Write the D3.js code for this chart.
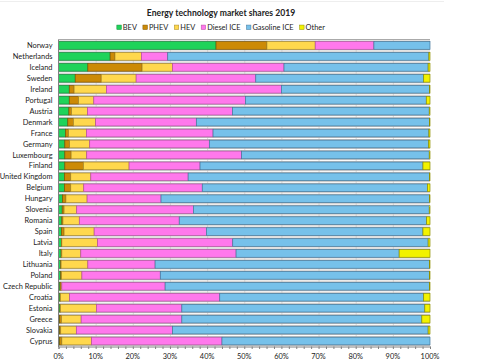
<!DOCTYPE html>
<html><head><meta charset="utf-8">
<script src="https://cdn.jsdelivr.net/npm/d3@7"></script>
<style>body{margin:0;background:#fff}svg{display:block}text{font-family:Lato,"Liberation Sans",sans-serif;fill:#222}</style>
</head><body><svg id="c" width="478" height="364"></svg>
<script>
const countries=["Norway","Netherlands","Iceland","Sweden","Ireland","Portugal","Austria","Denmark","France","Germany","Luxembourg","Finland","United Kingdom","Belgium","Hungary","Slovenia","Romania","Spain","Latvia","Italy","Lithuania","Poland","Czech Republic","Croatia","Estonia","Greece","Slovakia","Cyprus"];
const seriesNames=["BEV","PHEV","HEV","Diesel ICE","Gasoline ICE","Other"];
const bev=[42.4,13.9,7.9,4.5,2.9,2.9,2.8,2.5,1.9,1.7,1.7,1.7,1.6,1.6,1.1,1.0,0.9,0.8,0.8,0.7,0.6,0.6,0.4,0.4,0.4,0.3,0.3,0.3];
const phev=[13.7,1.3,14.6,7.0,1.3,2.5,0.7,1.5,0.8,1.3,1.7,5.0,1.7,1.7,0.9,0.5,0.3,0.7,0.1,0.2,0.1,0.2,0.3,0.1,0.1,0.5,0.3,0.6];
const hev=[13.0,7.1,8.2,9.4,8.7,4.1,4.3,6.0,4.8,5.4,4.2,12.3,5.4,3.5,5.7,3.4,4.4,8.1,9.6,5.1,7.2,5.5,0.2,2.5,9.7,5.3,4.2,8.0];
const diesel=[15.8,7.1,30.0,32.2,47.1,40.8,39.0,27.1,34.1,32.2,41.7,19.1,26.2,31.9,19.9,31.4,26.9,30.2,36.4,41.8,18.1,21.1,27.8,40.4,23.0,27.1,25.9,35.1];
const gasoline=[15.1,70.3,38.8,45.2,39.9,48.7,53.0,62.8,58.1,59.0,50.5,60.0,65.0,60.6,72.3,63.5,66.6,58.3,52.6,43.9,73.9,72.5,71.2,54.9,65.4,64.6,68.8,56.0];
const other=[0.0,0.3,0.5,1.7,0.1,1.0,0.2,0.1,0.3,0.4,0.2,1.9,0.1,0.7,0.1,0.2,0.9,1.9,0.5,8.3,0.1,0.1,0.1,1.7,1.4,2.2,0.5,0.0];
const xTicks=[0,10,20,30,40,50,60,70,80,90,100];
const title="Energy technology market shares 2019";

const colors=["#1fd35a","#cc8a06","#ffd84d","#ff78ec","#76c1ea","#f2f200"];
const strokes=["#15893b","#7d5404","#a8892a","#b1529f","#44779a","#8f8f00"];

const svg=d3.select("#c");
const rows=countries.map((c,i)=>({country:c,vals:[bev[i],phev[i],hev[i],diesel[i],gasoline[i],other[i]]}));
const x=d3.scaleLinear().domain([0,100]).range([58.5,430]);
const y=d3.scaleBand().domain(countries).range([40,346.5]).paddingInner(0.3).paddingOuter(0.15);
const step=y.step();

// frame lines
svg.append("line").attr("x1",0).attr("x2",444).attr("y1",1.5).attr("y2",1.5).attr("stroke","#eeeeee");
svg.append("line").attr("x1",58).attr("x2",430).attr("y1",39.5).attr("y2",39.5).attr("stroke","#aaaaaa");

// row bands
const g=svg.append("g");
g.selectAll("rect.band").data(rows).join("rect").attr("class","band")
 .attr("x",x(0)).attr("width",x(100)-x(0))
 .attr("y",d=>y(d.country)-step*0.15+0.5).attr("height",step-1)
 .attr("fill","#c2c2c2");
// grid
g.selectAll("line.grid").data(xTicks.slice(1,-1)).join("line").attr("class","grid")
 .attr("x1",d=>x(d)+0.5).attr("x2",d=>x(d)+0.5).attr("y1",40).attr("y2",346.5)
 .attr("stroke","#b8b8b8").attr("stroke-width",0.5);

// stacked bars
const stack=d3.stack().keys(d3.range(6)).value((d,k)=>d.vals[k]);
const layers=stack(rows);
svg.append("g").selectAll("g").data(layers).join("g")
 .attr("fill",(d,i)=>colors[i]).attr("stroke",(d,i)=>strokes[i]).attr("stroke-width",0.7)
 .selectAll("rect").data(d=>d).join("rect")
 .attr("x",d=>x(d[0])).attr("width",d=>Math.max(0,x(d[1])-x(d[0])))
 .attr("y",d=>y(d.data.country)).attr("height",y.bandwidth());

// left axis line
svg.append("line").attr("x1",58.5).attr("x2",58.5).attr("y1",40).attr("y2",347).attr("stroke","#808080");
// category labels
svg.append("g").selectAll("text").data(countries).join("text")
 .attr("x",52.5).attr("y",d=>y(d)+y.bandwidth()/2).attr("dy","0.35em")
 .attr("text-anchor","end").attr("font-size",7.4).text(d=>d);

// x axis
const xa=svg.append("g").attr("transform","translate(0,346.5)")
 .call(d3.axisBottom(x).tickValues(d3.range(0,101,2)).tickSize(2.5).tickFormat(""));
xa.select(".domain").attr("stroke","#808080");
xa.selectAll(".tick line").attr("stroke","#808080");
svg.append("g").selectAll("text").data(xTicks).join("text")
 .attr("x",d=>x(d)).attr("y",356).attr("dy","0.35em").attr("text-anchor","middle")
 .attr("font-size",7.4).text(d=>d+"%");

// title
svg.append("text").attr("x",221).attr("y",12.5).attr("dy","0.35em").attr("text-anchor","middle")
 .attr("font-size",8.6).attr("font-weight","bold").text(title);

// legend
const lg=svg.append("g");
const items=lg.selectAll("g").data(seriesNames).join("g");
items.append("rect").attr("width",4.5).attr("height",4.5).attr("y",-2.25)
 .attr("fill",(d,i)=>colors[i]).attr("stroke",(d,i)=>strokes[i]).attr("stroke-width",0.5);
items.append("text").attr("x",6).attr("dy","0.35em").attr("font-size",7.4).text(d=>d);
let pos=0; const offs=[];
items.each(function(){offs.push(pos);pos+=this.getBBox().width+6;});
const total=pos-6;
items.attr("transform",(d,i)=>`translate(${221-total/2+offs[i]},27.3)`);
</script></body></html>
